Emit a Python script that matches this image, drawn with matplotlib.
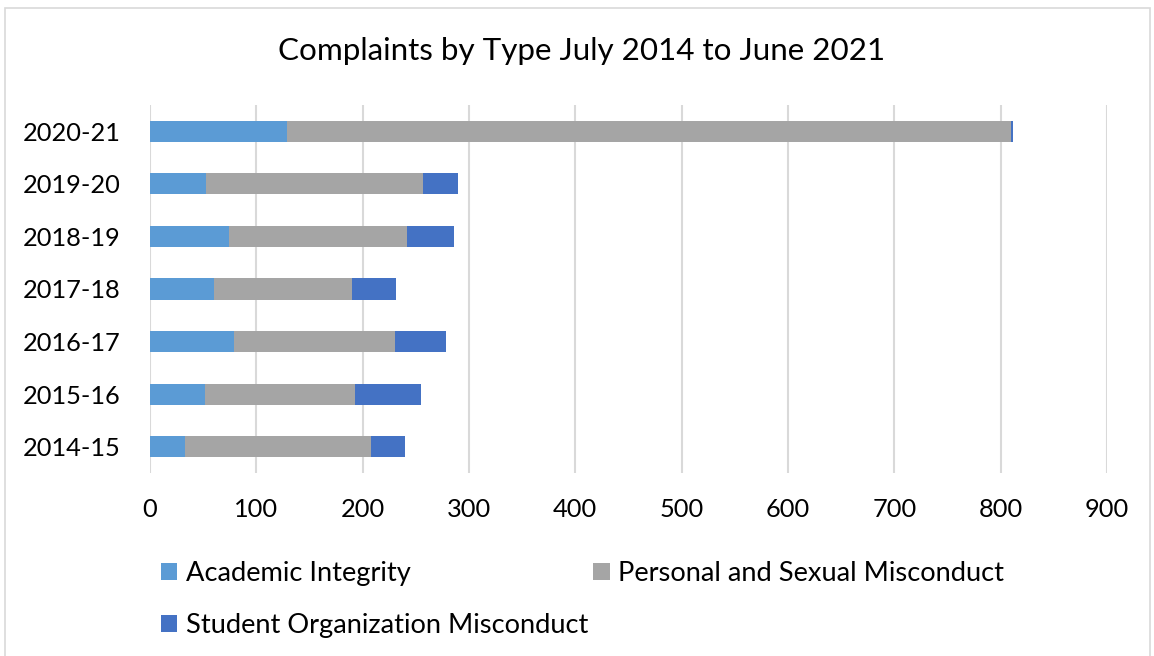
import matplotlib.pyplot as plt
import numpy as np
from matplotlib.patches import Rectangle

plt.rcParams['font.family'] = ['Lato', 'DejaVu Sans']

# data, bottom row first
years = ["2014-15", "2015-16", "2016-17", "2017-18", "2018-19", "2019-20", "2020-21"]
academic = [33, 52, 79, 60, 74, 53, 129]
personal = [175, 141, 151, 130, 168, 204, 681]
student_org = [32, 62, 48, 41, 44, 33, 2]

BLUE_LIGHT = "#5B9BD5"
GRAY = "#A5A5A5"
BLUE_DARK = "#4472C4"
GRID = "#D9D9D9"

fig = plt.figure(figsize=(11.54, 6.56), dpi=100)
ax = fig.add_axes([150 / 1154, 1 - 473 / 656, (1107 - 150) / 1154, (473 - 105) / 656])

y = np.arange(len(years))
h = 0.4
left2 = np.array(academic)
left3 = left2 + np.array(personal)

b1 = ax.barh(y, academic, h, color=BLUE_LIGHT, label="Academic Integrity", zorder=3)
b2 = ax.barh(y, personal, h, left=left2, color=GRAY, label="Personal and Sexual Misconduct", zorder=3)
b3 = ax.barh(y, student_org, h, left=left3, color=BLUE_DARK, label="Student Organization Misconduct", zorder=3)

ax.set_xlim(0, 900)
ax.set_ylim(-0.5, len(years) - 0.5)
ax.set_xticks(np.arange(0, 901, 100))
ax.set_yticks(y)
ax.set_yticklabels(years)
ax.tick_params(axis="both", length=0, labelsize=18.3, colors="black")
ax.tick_params(axis="y", pad=21)
ax.tick_params(axis="x", pad=18)
ax.grid(axis="x", color=GRID, linewidth=1.5, zorder=0)
for s in ax.spines.values():
    s.set_visible(False)

fig.text(582 / 1154, 1 - 51 / 656, "Complaints by Type July 2014 to June 2021",
         ha="center", va="center", fontsize=22.6)

# outer chart border
fig.patches.append(Rectangle((5 / 1154, -0.05), 1145 / 1154, 1.05 - 8 / 656,
                             transform=fig.transFigure, fill=False,
                             edgecolor=GRID, linewidth=1.2))

leg = fig.legend([b1, b3, b2],
                 ["Academic Integrity", "Student Organization Misconduct",
                  "Personal and Sexual Misconduct"],
                 ncol=2, loc="upper left", bbox_to_anchor=(161 / 1154, 1 - 561 / 656),
                 frameon=False, fontsize=19.6, handlelength=0.6, handleheight=0.6,
                 handletextpad=0.3, columnspacing=0.2, labelspacing=1.0,
                 borderaxespad=0, borderpad=0)

fig.savefig("out.png", dpi=100)
